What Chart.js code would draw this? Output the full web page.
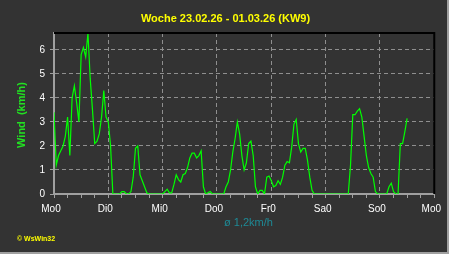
<!DOCTYPE html>
<html>
<head>
<meta charset="utf-8">
<title>Wind KW9</title>
<script src="https://cdn.jsdelivr.net/npm/chart.js@4/dist/chart.umd.min.js"></script>
<style>
    html, body { margin: 0; padding: 0; background: #333333; }
    canvas { display: block; }
</style>
</head>
<body>
<canvas id="windChart" width="449" height="254"></canvas>
<script>
// hourly wind values (km/h), starting Monday 0:00
const windKmh = [
    3.4, 1.2, 1.6, 1.8, 2.0, 2.4, 3.2, 1.6, 4.0, 4.5, 3.8, 3.0,
    5.8, 6.1, 5.7, 6.7, 4.8, 3.5, 2.1, 2.2, 2.5, 3.2, 4.3, 3.2,
    3.0, 2.0, 0, 0, 0, 0, 0.1, 0.1, 0, 0, 0.1, 0.7,
    1.9, 2.0, 0.8, 0.55, 0.3, 0.05, 0, 0, 0, 0, 0, 0,
    0, 0.1, 0.2, 0.05, 0.05, 0.4, 0.8, 0.6, 0.5, 0.8, 0.85, 1.1,
    1.5, 1.7, 1.7, 1.5, 1.6, 1.8, 0.3, 0, 0.05, 0.1, 0, 0,
    0, 0, 0, 0, 0.3, 0.5, 1.0, 1.75, 2.3, 3.0, 2.5, 1.6,
    1.0, 1.3, 2.1, 2.2, 1.6, 0.3, 0, 0.15, 0.15, 0, 0.7, 0.75,
    0.55, 0.3, 0.35, 0.55, 0.4, 0.7, 1.2, 1.35, 1.3, 1.95, 2.9, 3.1,
    2.1, 1.75, 1.9, 1.9, 1.4, 0.7, 0.15, 0, 0, 0, 0, 0,
    0, 0, 0, 0, 0, 0, 0, 0, 0, 0, 0, 1.2,
    3.3, 3.3, 3.45, 3.55, 3.2, 2.4, 1.6, 1.1, 0.85, 0.7, 0.1, 0,
    0, 0, 0, 0, 0.3, 0.45, 0.1, 0, 0, 2.1, 2.1, 2.6,
    3.15
];
const dayLabels = ['Mo0', 'Di0', 'Mi0', 'Do0', 'Fr0', 'Sa0', 'So0', 'Mo0'];
const yTicks = [0, 1, 2, 3, 4, 5, 6];

const titleText = 'Woche 23.02.26 - 01.03.26 (KW9)';
const yTitleText = 'Wind  (km/h)';
const averageText = '\u00f8 1,2km/h';
const creditText = '\u00a9 WsWin32';

const FONT = '"Liberation Sans", Arial, sans-serif';
const GRID = '#8f8f8f';
const AXIS = '#a0a0a0';

const points = windKmh.map((v, i) => ({ x: i, y: v }));

const framePlugin = {
    id: 'frame',
    beforeDraw(chart) {
        const ctx = chart.ctx;
        ctx.save();
        ctx.fillStyle = '#333333';
        ctx.fillRect(0, 0, chart.width, chart.height);
        ctx.fillStyle = AXIS;
        ctx.fillRect(chart.width - 2, 0, 2, chart.height);
        ctx.fillRect(0, chart.height - 2, chart.width, 2);
        ctx.restore();
    },
    afterDraw(chart) {
        const ctx = chart.ctx;
        const area = chart.chartArea;
        ctx.save();
        ctx.strokeStyle = '#000000';
        ctx.lineWidth = 2;
        ctx.beginPath();
        ctx.moveTo(area.left, area.top);
        ctx.lineTo(area.right, area.top);
        ctx.lineTo(area.right, area.bottom);
        ctx.stroke();

        ctx.textAlign = 'center';
        ctx.textBaseline = 'middle';
        ctx.fillStyle = '#ffff00';
        ctx.font = 'bold 11px ' + FONT;
        ctx.fillText(titleText, 225.5, 19);

        ctx.fillStyle = '#1e8a96';
        ctx.font = '11px ' + FONT;
        ctx.fillText(averageText, 248.5, 223);

        ctx.textAlign = 'left';
        ctx.fillStyle = '#ffff00';
        ctx.font = 'bold 7px ' + FONT;
        ctx.fillText(creditText, 17, 239);

        ctx.translate(22, 115);
        ctx.rotate(-Math.PI / 2);
        ctx.textAlign = 'center';
        ctx.fillStyle = '#22e022';
        ctx.font = 'bold 11px ' + FONT;
        ctx.fillText(yTitleText, 0, 0);
        ctx.restore();
    }
};

new Chart(document.getElementById('windChart'), {
    type: 'line',
    data: {
        datasets: [{
            data: points,
            borderColor: '#00ff00',
            borderWidth: 1.2,
            pointRadius: 0,
            tension: 0,
            fill: false
        }]
    },
    options: {
        responsive: false,
        animation: false,
        layout: { padding: { top: 33, right: 13, left: 0, bottom: 0 } },
        plugins: {
            legend: { display: false },
            tooltip: { enabled: false }
        },
        scales: {
            x: {
                type: 'linear',
                min: 0,
                max: 168,
                afterFit: (scale) => { scale.height = 60; },
                ticks: {
                    stepSize: 6,
                    autoSkip: false,
                    maxRotation: 0,
                    padding: 5,
                    labelOffset: -3,
                    color: '#ffffff',
                    font: { family: FONT, size: 10 },
                    callback: (value) => value % 24 === 0 ? dayLabels[value / 24] : ''
                },
                grid: {
                    color: (c) => (c.tick && c.tick.value % 24 === 0 && c.tick.value > 0 && c.tick.value < 168) ? GRID : 'rgba(0,0,0,0)',
                    tickColor: AXIS,
                    tickLength: 4,
                    lineWidth: 1
                },
                border: { display: true, color: AXIS, width: 2, dash: [4, 3] }
            },
            y: {
                min: 0,
                max: 6.7,
                afterFit: (scale) => { scale.width = 54; },
                afterBuildTicks: (scale) => {
                    scale.ticks = yTicks.map((v) => ({ value: v }));
                },
                ticks: {
                    padding: 5,
                    color: '#ffffff',
                    font: { family: FONT, size: 10 }
                },
                grid: {
                    color: (c) => (c.tick && c.tick.value > 0) ? GRID : 'rgba(0,0,0,0)',
                    tickColor: AXIS,
                    tickLength: 4,
                    lineWidth: 1
                },
                border: { display: true, color: AXIS, width: 2, dash: [4, 3] }
            }
        }
    },
    plugins: [framePlugin]
});
</script>
</body>
</html>
